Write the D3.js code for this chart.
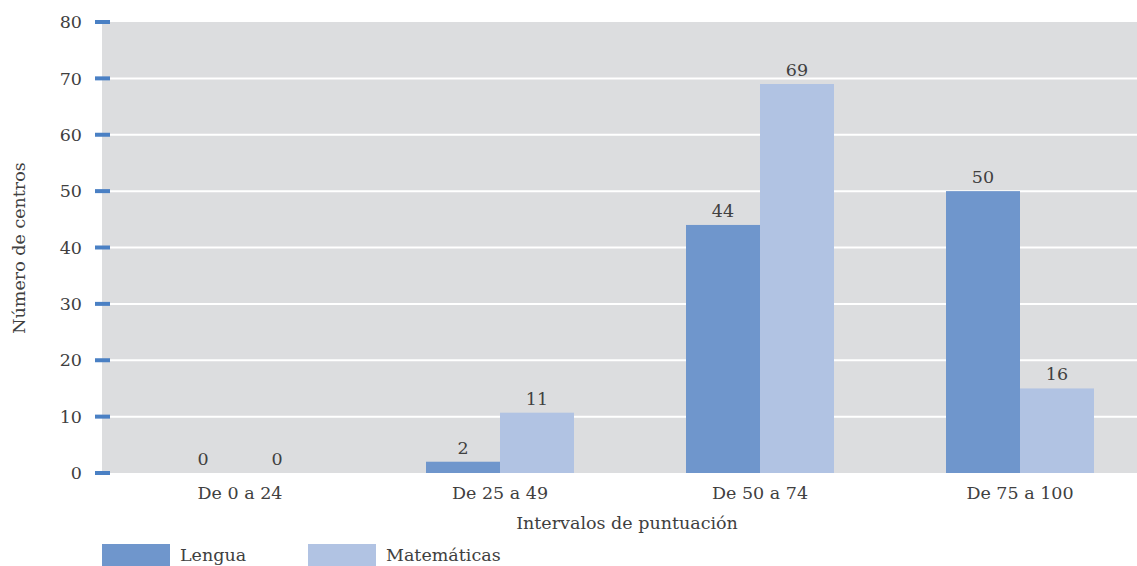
<!DOCTYPE html>
<html>
<head>
<meta charset="utf-8">
<script src="https://cdn.jsdelivr.net/npm/d3@7"></script>
<style>
  body { margin: 0; background: #fff; }
  text { font-family: "DejaVu Serif", serif; fill: #404040; font-weight: normal; }
</style>
</head>
<body>
<div id="chart"></div>
<script>
var categories = ["De 0 a 24", "De 25 a 49", "De 50 a 74", "De 75 a 100"];
var seriesNames = ["Lengua", "Matemáticas"];
var lenguaValues = [0, 2, 44, 50];
var matematicasValues = [0, 10.7, 69, 15];   // bar heights as drawn
var lenguaLabels = ["0", "2", "44", "50"];
var matematicasLabels = ["0", "11", "69", "16"];
var yTicks = [0, 10, 20, 30, 40, 50, 60, 70, 80];
var colors = ["#6f96cc", "#b1c3e3"];

var width = 1137, height = 566;
var fontSize = "17.5px";

var svg = d3.select('#chart').append('svg')
    .attr('width', width)
    .attr('height', height);

var x = d3.scaleBand()
    .domain(categories)
    .range([110, 1150])
    .paddingInner(0)
    .paddingOuter(0);

var x1 = d3.scaleBand()
    .domain(seriesNames)
    .range([56, x.bandwidth() - 56]);

var y = d3.scaleLinear()
    .domain([0, 80])
    .range([473, 22]);

// plot background
svg.append("rect")
    .attr("x", 102)
    .attr("y", y(80))
    .attr("width", width - 102)
    .attr("height", y(0) - y(80))
    .attr("fill", "#dcdddf");

// gridlines
svg.selectAll(".grid")
    .data(yTicks.slice(1, -1))
    .enter().append("line")
    .attr("x1", 102)
    .attr("x2", width)
    .attr("y1", function (d) { return y(d); })
    .attr("y2", function (d) { return y(d); })
    .attr("stroke", "#ffffff")
    .attr("stroke-width", 2);

// y axis ticks
var yAxis = svg.append("g");
yAxis.selectAll("rect")
    .data(yTicks)
    .enter().append("rect")
    .attr("x", 95)
    .attr("y", function (d) { return y(d) - 2; })
    .attr("width", 15)
    .attr("height", 4)
    .attr("fill", "#4a80c4");

yAxis.selectAll("text")
    .data(yTicks)
    .enter().append("text")
    .attr("x", 82)
    .attr("y", function (d) { return y(d); })
    .attr("dy", "0.35em")
    .attr("text-anchor", "end")
    .style("font-size", fontSize)
    .text(function (d) { return d; });

var series = [
    { name: seriesNames[0], values: lenguaValues, labels: lenguaLabels, color: colors[0] },
    { name: seriesNames[1], values: matematicasValues, labels: matematicasLabels, color: colors[1] }
];

series.forEach(function (s) {
    var g = svg.append("g");
    g.selectAll("rect")
        .data(categories)
        .enter().append("rect")
        .attr("x", function (d) { return x(d) + x1(s.name); })
        .attr("y", function (d, i) { return y(s.values[i]); })
        .attr("width", x1.bandwidth())
        .attr("height", function (d, i) { return y(0) - y(s.values[i]); })
        .attr("fill", s.color);
    g.selectAll("text")
        .data(categories)
        .enter().append("text")
        .attr("x", function (d) { return x(d) + x1(s.name) + x1.bandwidth() / 2; })
        .attr("y", function (d, i) { return y(s.values[i]) - 8; })
        .attr("text-anchor", "middle")
        .style("font-size", fontSize)
        .text(function (d, i) { return s.labels[i]; });
});

// x axis labels
svg.selectAll(".xlabel")
    .data(categories)
    .enter().append("text")
    .attr("x", function (d) { return x(d) + x.bandwidth() / 2; })
    .attr("y", 499)
    .attr("text-anchor", "middle")
    .style("font-size", fontSize)
    .text(function (d) { return d; });

svg.append("text")
    .attr("x", 627)
    .attr("y", 529)
    .attr("text-anchor", "middle")
    .style("font-size", fontSize)
    .text("Intervalos de puntuación");

svg.append("text")
    .attr("transform", "translate(25,248) rotate(-90)")
    .attr("text-anchor", "middle")
    .style("font-size", fontSize)
    .text("Número de centros");

// legend
var legendX = [102, 308];
series.forEach(function (s, i) {
    svg.append("rect")
        .attr("x", legendX[i])
        .attr("y", 544)
        .attr("width", 68)
        .attr("height", 24)
        .attr("fill", s.color);
    svg.append("text")
        .attr("x", legendX[i] + 78)
        .attr("y", 561)
        .style("font-size", fontSize)
        .text(s.name);
});
</script>
</body>
</html>
